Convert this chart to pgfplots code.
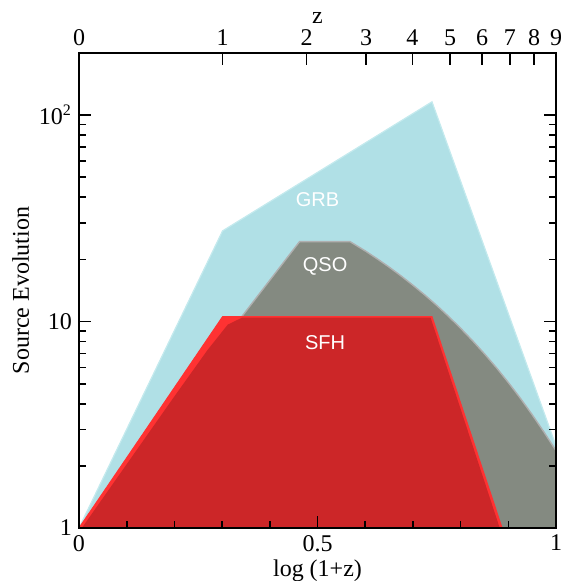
\documentclass[border=0pt]{standalone}
\usepackage{fontspec}
\setmainfont{Liberation Serif}
\newfontfamily\labelsans{Liberation Sans}
\usepackage{pgfplots}
\pgfplotsset{compat=1.18}
\definecolor{grbc}{RGB}{176,224,230}
\definecolor{grbe}{RGB}{196,234,238}
\definecolor{qsoc}{RGB}{132,138,129}
\definecolor{qsoe}{RGB}{175,175,175}
\definecolor{sfhc}{RGB}{204,38,40}
\definecolor{sfhb}{RGB}{255,50,50}
\begin{document}
\begin{tikzpicture}[font=\fontsize{12}{14}\selectfont]
\begin{axis}[
  at={(0,0)}, anchor=south west,
  scale only axis, width=238.5pt, height=237.5pt,
  xmin=0, xmax=1, ymode=log, ymin=1, ymax=200,
  axis on top,
  /pgf/number format/assume math mode=true,
  xtick={0,0.5,1}, xticklabels={0,0.5,1},
  minor xtick={0.1,0.2,0.3,0.4,0.6,0.7,0.8,0.9},
  xtick pos=left,
  ytick={1,10,100}, yticklabels={1,10,10\textsuperscript{2}},
  minor ytick={2,3,4,5,6,7,8,9,20,30,40,50,60,70,80,90,200},
  ytick pos=both, yticklabel pos=left,
  tick align=inside,
  major tick length=6pt, minor tick length=3.5pt,
  every tick/.style={black, line width=0.8pt},
  axis line style={line width=1pt},
  xlabel={log (1+z)}, ylabel={Source Evolution},
  xlabel style={yshift=2.5pt},
  ylabel style={yshift=-2pt},
]
\addplot[fill=grbc, draw=grbe, line width=0.6pt] coordinates {
 (0,1) (0.301,27.5) (0.740,116) (1,2.5) (1,1)} -- cycle;
\addplot[fill=qsoc, draw=qsoe, line width=0.7pt] coordinates {
 (0,1) (0.4624,24.4) (0.568,24.4) (0.6,22.0) (0.625,20.15) (0.65,18.37)
 (0.675,16.65) (0.7,15.0) (0.725,13.45) (0.75,11.97) (0.775,10.58)
 (0.8,9.28) (0.825,8.08) (0.85,6.98) (0.875,5.98) (0.9,5.07)
 (0.925,4.26) (0.95,3.54) (0.975,2.91) (1,2.37) (1,1)} -- cycle;
\addplot[fill=sfhb, draw=sfhb, line width=0.5pt] coordinates {
 (0,1) (0.301,10.56) (0.740,10.56) (0.887,1)} -- cycle;
\addplot[fill=sfhc, draw=none] coordinates {
 (0.006,1) (0.195,4.18) (0.270,7.31) (0.312,9.67) (0.342,10.45) (0.737,10.45) (0.882,1)} -- cycle;
\node[white, font=\labelsans\fontsize{10}{11}\selectfont] at (axis cs:0.5,39) {GRB};
\node[white, font=\labelsans\fontsize{10}{11}\selectfont] at (axis cs:0.516,18.5) {QSO};
\node[white, font=\labelsans\fontsize{10}{11}\selectfont] at (axis cs:0.516,7.9) {SFH};
\end{axis}
\begin{axis}[
  at={(0,0)}, anchor=south west,
  scale only axis, width=238.5pt, height=237.5pt,
  xmin=0, xmax=1, ymode=log, ymin=1, ymax=200,
  /pgf/number format/assume math mode=true,
  xtick={0,0.30103,0.47712,0.60206,0.69897,0.77815,0.84510,0.90309,0.95424,1},
  xticklabels={0,1,2,3,4,5,6,7,8,9},
  xtick pos=right, xticklabel pos=right,
  ytick=\empty, minor xtick={},
  tick align=inside, major tick length=6pt,
  every tick/.style={black, line width=0.8pt},
  axis line style={line width=1pt},
  xlabel={z},
  xlabel style={yshift=-4pt},
]
\end{axis}
\pgfresetboundingbox
\useasboundingbox (-39.5pt,-26.5pt) rectangle (241.5pt,264pt);
\end{tikzpicture}
\end{document}
